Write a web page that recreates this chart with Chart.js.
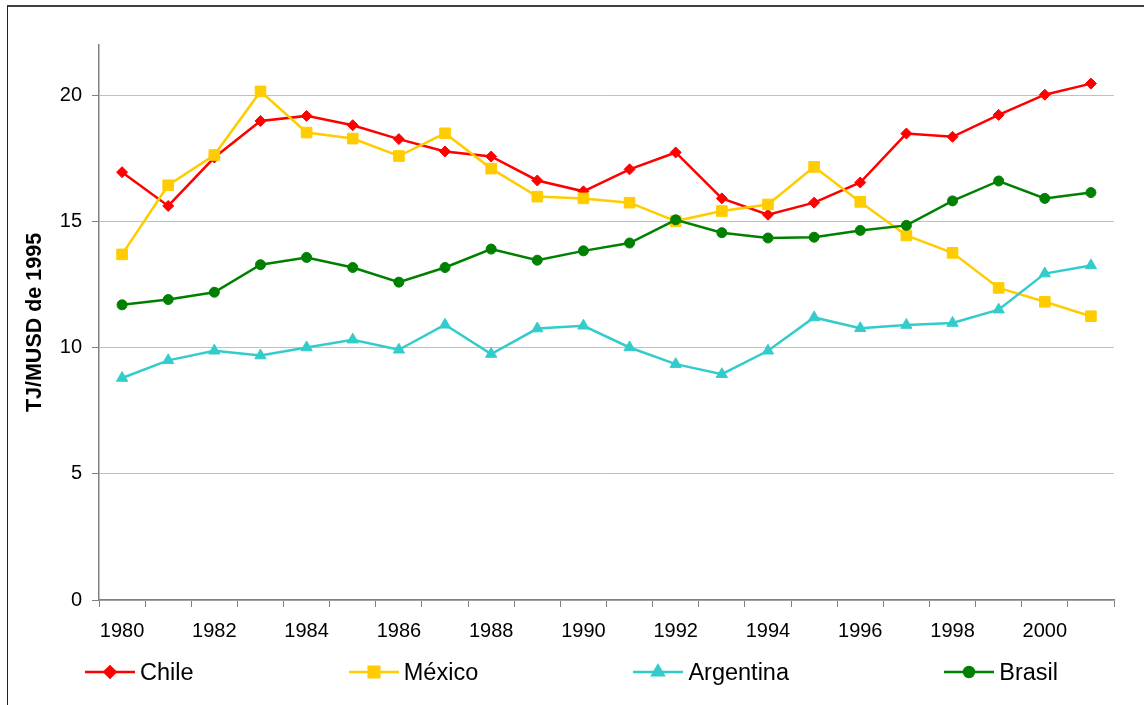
<!DOCTYPE html>
<html>
<head>
<meta charset="utf-8">
<script src="https://cdn.jsdelivr.net/npm/chart.js@4/dist/chart.umd.min.js"></script>
<style>
    html, body { margin: 0; padding: 0; background: #fff; }
    body { width: 1144px; height: 705px; position: relative; overflow: hidden; font-family: "Liberation Sans", Arial, sans-serif; }
    #wrap { position: absolute; left: 0; top: 0; width: 1144px; height: 705px; }
    #frame { position: absolute; left: 7px; top: 5px; width: 1200px; height: 800px; border-left: 1px solid #222; border-top: 2px solid #404040; pointer-events: none; }
    #legend { position: absolute; left: 85px; top: 658px; width: 973px; height: 28px; display: flex; justify-content: space-between; align-items: center; }
    .legend-item { display: flex; align-items: center; }
    .legend-item span { margin-left: 5px; font-size: 23.5px; color: #000; line-height: 28px; }
</style>
</head>
<body>
<div id="wrap"><canvas id="chart-item" width="1144" height="705"></canvas></div>
<div id="legend"></div>
<div id="frame"></div>
<script>
var years = ['1980', '1981', '1982', '1983', '1984', '1985', '1986', '1987', '1988', '1989', '1990',
    '1991', '1992', '1993', '1994', '1995', '1996', '1997', '1998', '1999', '2000', '2001'];
var chile = [16.96, 15.62, 17.54, 18.99, 19.19, 18.82, 18.27, 17.78, 17.58, 16.63, 16.2,
    17.07, 17.74, 15.92, 15.27, 15.75, 16.55, 18.49, 18.36, 19.23, 20.03, 20.47];
var mexico = [13.7, 16.44, 17.64, 20.16, 18.53, 18.29, 17.6, 18.5, 17.1, 15.99, 15.92,
    15.75, 15.02, 15.42, 15.68, 17.17, 15.78, 14.45, 13.76, 12.37, 11.82, 11.25];
var argentina = [8.8, 9.5, 9.88, 9.69, 10.01, 10.32, 9.92, 10.91, 9.75, 10.76, 10.87,
    10.01, 9.35, 8.95, 9.88, 11.2, 10.77, 10.9, 10.98, 11.51, 12.94, 13.26];
var brasil = [11.7, 11.91, 12.2, 13.29, 13.58, 13.18, 12.6, 13.18, 13.91, 13.47, 13.84,
    14.15, 15.07, 14.56, 14.35, 14.38, 14.65, 14.85, 15.82, 16.61, 15.92, 16.15];
var yTicks = [0, 5, 10, 15, 20];
var axisTitle = 'TJ/MUSD de 1995';

var fontFamily = '"Liberation Sans", Arial, sans-serif';

function makeSeries(label, values, color, style, radius, order) {
    return {
        label: label,
        data: values,
        borderColor: color,
        backgroundColor: color,
        borderWidth: 2.5,
        pointStyle: style,
        pointRadius: radius,
        pointBorderWidth: 1,
        pointBackgroundColor: color,
        pointBorderColor: color,
        tension: 0,
        order: order
    };
}

// html legend: line + marker, then the name
var htmlLegend = {
    id: 'htmlLegend',
    afterUpdate: function (chart) {
        var box = document.getElementById('legend');
        box.innerHTML = '';
        chart.data.datasets.forEach(function (ds) {
            var item = document.createElement('div');
            item.className = 'legend-item';
            var c = document.createElement('canvas');
            c.width = 50;
            c.height = 20;
            var ctx = c.getContext('2d');
            ctx.strokeStyle = ds.borderColor;
            ctx.lineWidth = ds.borderWidth;
            ctx.beginPath();
            ctx.moveTo(0, 10);
            ctx.lineTo(50, 10);
            ctx.stroke();
            ctx.fillStyle = ds.pointBackgroundColor;
            ctx.strokeStyle = ds.pointBorderColor;
            Chart.helpers.drawPoint(ctx, {
                pointStyle: ds.pointStyle,
                radius: ds.pointRadius,
                rotation: 0,
                borderWidth: ds.pointBorderWidth
            }, 25, 10);
            var s = document.createElement('span');
            s.textContent = ds.label;
            item.appendChild(c);
            item.appendChild(s);
            box.appendChild(item);
        });
    }
};

var ctx = document.getElementById('chart-item').getContext('2d');
var chart = new Chart(ctx, {
    type: 'line',
    data: {
        labels: years,
        datasets: [
            makeSeries('Chile', chile, '#FF0000', 'rectRot', 5.5, 3),
            makeSeries('México', mexico, '#FFCC00', 'rect', 7.5, 2),
            makeSeries('Argentina', argentina, '#33CCCC', 'triangle', 6.5, 1),
            makeSeries('Brasil', brasil, '#008000', 'circle', 5, 0)
        ]
    },
    options: {
        responsive: false,
        animation: false,
        events: [],
        layout: {
            padding: { left: 0, right: 30, top: 45, bottom: 0 }
        },
        plugins: {
            legend: { display: false },
            tooltip: { enabled: false }
        },
        scales: {
            x: {
                type: 'category',
                offset: true,
                afterFit: function (scale) {
                    scale.height = 105;
                },
                grid: {
                    offset: true,
                    drawOnChartArea: false,
                    drawTicks: true,
                    tickLength: 7,
                    tickColor: '#808080'
                },
                border: { color: '#808080', width: 1.5 },
                ticks: {
                    autoSkip: false,
                    maxRotation: 0,
                    padding: 12,
                    color: '#000',
                    font: { family: fontFamily, size: 20 },
                    callback: function (value, index) {
                        return index % 2 === 0 ? this.getLabelForValue(value) : '';
                    }
                }
            },
            y: {
                min: 0,
                max: 22,
                afterFit: function (scale) {
                    scale.width = 99;
                },
                afterBuildTicks: function (scale) {
                    scale.ticks = yTicks.map(function (v) { return { value: v }; });
                },
                grid: {
                    color: '#C0C0C0',
                    lineWidth: 1,
                    tickLength: 7,
                    tickColor: '#808080'
                },
                border: { color: '#808080', width: 1.5 },
                ticks: {
                    padding: 10,
                    color: '#000',
                    font: { family: fontFamily, size: 20 }
                },
                title: {
                    display: true,
                    text: axisTitle,
                    color: '#000',
                    padding: { top: 22, bottom: 0 },
                    font: { family: fontFamily, size: 21.5, weight: 'bold' }
                }
            }
        }
    },
    plugins: [htmlLegend]
});
</script>
</body>
</html>
